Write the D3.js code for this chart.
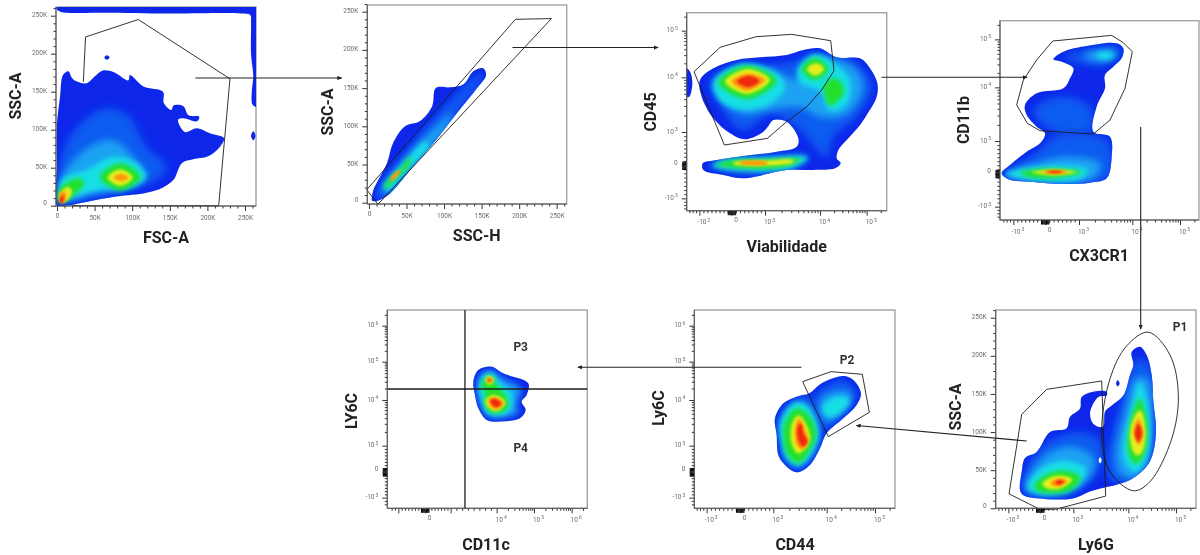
<!DOCTYPE html>
<html lang="en">
<head>
  <meta charset="UTF-8">
  <title>Flow cytometry gating strategy</title>
  <script src="https://d3js.org/d3.v7.min.js"></script>
  <style>
    html, body { margin: 0; background: #fff; }
    svg { display: block; filter: blur(0.35px); }
    text { font-family: Roboto, sans-serif; }
    .tick text { font-size: 6.5px; fill: #6d6d6d; }
    .tick text tspan { font-size: 5px; }
    .tick line { stroke: #333; }
    .title { font-size: 16px; font-weight: 700; fill: #222; text-anchor: middle; }
    .pop { font-size: 12px; font-weight: 700; fill: #333; text-anchor: middle; }
  </style>
</head>
<body>
<svg width="1200" height="555"></svg>
<script>
// density colours, low to high. index 1 is the flat blue of the outer contour
const densityColors = ["#ffffff", "#0a28ea", "#0f5cf0", "#1ca2f2", "#18dfe6", "#22e02a", "#e6ee1e", "#ff9a10", "#ee2a10"];
// blur per density level, the hot spots stay sharper
const levelBlur = [0, 0, 4.5, 3.8, 2.8, 2, 1.5, 1.2, 1];

const linTicks = [0, 50, 100, 150, 200, 250];
const linLabels = ["0", "50K", "100K", "150K", "200K", "250K"];

// Panel 1: FSC-A / SSC-A, values in K
const p1Outer = [
  [[0,0],[0,51],[0,108],[4,143],[8,172],[15,177],[20,168],[25,164],[39,161],[50,170],[61,178],[75,176],[95,165],[97,172],[115,157],[141,150],[142,135],[152,126],[155,132],[168,131],[175,119],[189,117],[186,111],[168,115],[161,113],[170,97],[186,102],[204,95],[222,89],[217,78],[201,65],[181,61],[166,56],[155,34],[141,24],[119,17],[79,12],[39,5],[12,0]],
  [[0,262],[130,262],[266,262],[266,130],[260,133],[259,150],[261,170],[258,200],[258,240],[257,251],[245,253],[150,253],[60,254],[5,255],[0,258]],
  [[261,98],[264,92],[261,86],[258,92]],
  [[63,195],[66,198],[70,195],[66,192]]
];
const p1Levels = [
  [2, [[4,12],[12,82],[57,126],[92,121],[119,78],[146,51],[132,34],[79,16],[26,8]]],
  [3, [[6,12],[12,47],[44,78],[75,86],[101,64],[115,38],[92,23],[48,16],[19,7]]],
  [4, [[4,7],[6,34],[39,47],[75,64],[106,56],[119,38],[101,25],[57,21],[21,12]]],
  [5, [[57,38],[84,56],[111,38],[84,20]]],
  [5, [[2,5],[5,24],[30,36],[36,30],[25,16],[10,5]]],
  [6, [[67,37],[84,48],[101,37],[84,26]]],
  [6, [[5,5],[4,16],[15,25],[20,18],[12,6]]],
  [7, [[75,37],[85,42],[95,37],[85,32]]],
  [7, [[3,6],[6,19],[12,17],[10,5]]],
  [8, [[4,5],[6,13],[9,11],[7,3]]]
];
const p1Gate = [[35,163],[38,222],[108,245],[230,167],[215,0],[20,0]];

// Panel 2: SSC-H / SSC-A, values in K
const p2Outer = [[[4,8],[6,17],[24,52],[32,78],[48,100],[68,107],[84,126],[89,150],[108,151],[126,155],[139,172],[152,176],[156,167],[144,150],[117,117],[86,78],[55,43],[28,12],[10,2],[4,3]]];
const p2Levels = [
  [2, [[8,6],[45,60],[100,125],[150,170],[152,165],[115,115],[55,45],[15,3]]],
  [3, [[17,17],[50,60],[95,105],[112,118],[104,98],[60,48],[22,12]]],
  [4, [[21,21],[50,55],[75,80],[80,75],[52,43],[25,15]]],
  [5, [[21,23],[40,42],[55,60],[54,50],[35,31],[23,19]]],
  [7, [[28,30],[38,42],[42,42],[32,29]]]
];
const p2Gate = [[-3,17],[195,240],[243,241],[12,-2]];

// Panel 3: Viabilidade / CD45, values in biex channels
const p3XTicks = [38, 135, 235, 400, 540];
const p3XLabels = ["-10^2", "0", "10^3", "10^4", "10^5"];
const p3YTicks = [37, 137, 236, 400, 540];
const p3YLabels = ["-10^3", "0", "10^3", "10^4", "10^5"];
const p3Outer = [
  [[40,392],[80,427],[150,452],[220,460],[300,467],[350,482],[400,487],[450,460],[520,457],[550,427],[572,382],[570,342],[540,287],[520,257],[480,212],[455,182],[450,157],[462,142],[445,127],[380,122],[300,122],[170,97],[110,107],[50,122],[48,142],[90,152],[170,164],[270,177],[330,192],[335,217],[300,267],[260,272],[245,254],[230,237],[175,214],[130,232],[80,277],[45,342]],
  [[-2,427],[10,417],[17,382],[8,342],[0,342]]
];
const p3Levels = [
  [2, [[70,392],[160,432],[300,442],[390,472],[510,442],[555,372],[510,282],[440,222],[420,160],[330,250],[250,290],[170,240],[110,300]]],
  [2, [[65,137],[170,107],[330,137],[360,167],[230,162],[110,152]]],
  [3, [[90,390],[170,425],[260,420],[330,395],[385,450],[430,455],[500,430],[530,370],[480,290],[400,280],[340,310],[240,300],[170,290],[110,330]]],
  [4, [[80,385],[160,440],[265,415],[295,370],[240,315],[150,305],[95,335]]],
  [4, [[330,420],[385,470],[445,440],[490,390],[480,320],[430,300],[400,360],[345,380]]],
  [4, [[75,135],[170,118],[320,128],[365,160],[230,160],[110,152]]],
  [5, [[95,385],[180,435],[270,390],[180,335]]],
  [5, [[345,425],[385,458],[425,425],[385,392]]],
  [5, [[412,375],[445,398],[473,360],[430,315]]],
  [5, [[90,138],[170,127],[300,133],[345,155],[250,153],[130,150]]],
  [6, [[115,388],[185,425],[250,392],[180,350]]],
  [6, [[360,425],[388,443],[412,425],[385,405]]],
  [6, [[140,140],[230,135],[320,145],[320,152],[230,150],[140,145]]],
  [7, [[135,388],[185,412],[235,392],[180,360]]],
  [7, [[160,141],[240,139],[240,146],[160,146]]],
  [8, [[150,388],[185,405],[218,390],[185,370]]]
];
const p3Gate = [[22,417],[100,490],[208,522],[315,529],[432,510],[442,420],[405,362],[360,312],[300,267],[242,217],[113,197]];

// Panel 4: CX3CR1 / CD11b, biex channels
const p4XTicks = [40, 135, 237, 397, 540];
const p4XLabels = ["-10^3", "0", "10^3", "10^4", "10^5"];
const p4YTicks = [40, 140, 237, 398, 542];
const p4YLabels = ["-10^3", "0", "10^3", "10^4", "10^5"];
const p4Outer = [[[160,482],[190,505],[260,522],[350,530],[370,515],[365,485],[340,460],[315,435],[315,395],[290,340],[280,265],[330,250],[335,190],[320,125],[270,112],[190,108],[90,115],[25,122],[5,140],[30,165],[80,205],[120,230],[135,260],[110,280],[80,315],[75,345],[110,380],[190,395],[210,425],[220,455],[185,475]]];
const p4Levels = [
  [2, [[190,490],[260,510],[350,520],[360,490],[300,465],[240,470]]],
  [2, [[100,330],[180,370],[270,340],[275,270],[150,270]]],
  [2, [[10,135],[120,210],[160,250],[320,240],[330,130],[190,112],[50,118]]],
  [3, [[250,495],[310,510],[350,505],[330,480],[280,478]]],
  [3, [[20,135],[110,170],[200,190],[300,170],[280,125],[120,118]]],
  [4, [[285,495],[315,505],[345,495],[315,482]]],
  [4, [[15,138],[100,158],[200,162],[265,150],[240,122],[110,118]]],
  [5, [[60,143],[160,154],[250,143],[160,126],[85,130]]],
  [6, [[95,144],[160,151],[230,144],[160,134]]],
  [7, [[125,144],[165,150],[205,144],[165,138]]],
  [8, [[138,144],[165,148],[192,144],[165,140]]]
];
const p4Gate = [[158,537],[335,554],[370,532],[397,505],[375,395],[330,300],[280,258],[120,268],[82,290],[50,345],[70,420],[110,480]];

// Panel 5: Ly6G (biex channels) / SSC-A (K)
const p5XTicks = [38, 133, 233, 398, 541];
const p5XLabels = ["-10^3", "0", "10^3", "10^4", "10^5"];
const p5Outer = [
  [[73,24],[78,48],[88,66],[123,74],[163,100],[213,105],[223,120],[253,131],[258,146],[293,153],[333,153],[333,148],[308,146],[283,125],[295,110],[322,107],[328,127],[348,135],[383,148],[403,175],[413,188],[408,205],[433,212],[453,201],[468,175],[473,140],[481,105],[473,74],[453,55],[403,37],[363,31],[333,28],[283,22],[233,13],[153,12],[83,17]],
  [[361,164],[366,168],[372,164],[366,160]]
];
const p5Holes = [[[309,63],[313,67],[318,63],[313,59]]];
const p5Levels = [
  [2, [[85,22],[90,50],[150,85],[250,100],[310,90],[310,50],[240,25],[150,15]]],
  [2, [[340,40],[350,100],[385,150],[420,195],[460,190],[478,120],[465,65],[440,45],[390,32]]],
  [3, [[90,25],[110,50],[170,75],[240,80],[295,65],[280,40],[220,20],[150,17]]],
  [3, [[360,70],[385,120],[420,170],[455,170],[470,115],[455,60],[415,40],[375,45]]],
  [4, [[95,27],[130,50],[200,62],[270,52],[250,32],[190,20],[130,19]]],
  [4, [[385,90],[410,135],[432,165],[462,120],[452,65],[420,48],[390,60]]],
  [5, [[115,30],[165,47],[225,48],[255,40],[225,24],[170,20],[130,22]]],
  [5, [[397,95],[415,130],[432,144],[455,110],[445,70],[420,58],[400,70]]],
  [6, [[140,33],[185,43],[230,38],[195,26],[155,26]]],
  [6, [[403,100],[422,125],[435,128],[450,100],[437,72],[420,70],[408,80]]],
  [7, [[165,34],[190,39],[215,36],[195,29],[170,30]]],
  [7, [[413,100],[428,118],[443,100],[430,83]]],
  [8, [[178,34],[192,37],[205,35],[192,31]]],
  [8, [[417,98],[428,111],[439,98],[428,87]]]
];
const p5GateA = [[153,156],[318,167],[330,16],[183,-1],[135,-2],[40,19],[78,123]];
const p5GateB = [[458,231],[523,201],[548,148],[528,91],[463,35],[413,23],[343,48],[318,96],[343,170],[393,213]];

// Panel 6: CD44 / Ly6C, biex channels
const p6XTicks = [37, 137, 237, 397, 542];
const p6XLabels = ["-10^3", "0", "10^3", "10^4", "10^5"];
const lyYTicks = [32, 110, 188, 325, 440, 548];
const lyYLabels = ["-10^3", "0", "10^3", "10^4", "10^5", "10^6"];
const p6Outer = [[[242,270],[267,315],[307,335],[345,345],[382,375],[447,397],[477,385],[500,345],[487,310],[447,270],[397,225],[377,180],[347,130],[307,108],[272,130],[252,160],[247,220]]];
const p6Levels = [
  [2, [[360,330],[400,370],[450,385],[485,345],[470,310],[420,260],[395,235]]],
  [2, [[250,265],[300,328],[345,335],[385,225],[350,140],[310,115],[270,140],[255,200]]],
  [3, [[375,320],[420,350],[470,345],[465,310],[420,270],[395,260]]],
  [4, [[385,305],[430,335],[465,325],[430,280],[400,275]]],
  [4, [[257,260],[300,318],[340,310],[375,225],[345,150],[310,125],[275,150],[260,200]]],
  [5, [[270,250],[305,300],[338,285],[365,225],[338,160],[310,135],[278,165],[268,210]]],
  [6, [[292,250],[312,280],[332,258],[348,210],[332,178],[310,165],[292,195]]],
  [7, [[303,248],[315,270],[330,242],[342,205],[326,176],[308,188]]],
  [8, [[310,245],[320,255],[328,225],[340,200],[325,185],[312,205]]]
];
const p6Gate = [[325,380],[410,410],[504,402],[525,288],[402,215]];

// Panel 7: CD11c / LY6C, biex channels
const p7XTicks = [33, 113, 190, 328, 440, 553];
const p7XLabels = ["", "0", "", "10^4", "10^5", "10^6"];
const p7Outer = [[[258,380],[273,415],[313,425],[348,405],[423,375],[418,340],[403,320],[415,295],[398,270],[328,260],[298,265],[273,300],[263,340]]];
const p7Levels = [
  [3, [[270,370],[285,405],[315,412],[345,390],[400,360],[395,330],[385,310],[395,290],[375,278],[330,272],[300,278],[280,310]]],
  [4, [[275,365],[290,400],[315,405],[335,380],[370,350],[375,310],[365,290],[330,278],[300,285],[285,320]]],
  [5, [[282,365],[295,392],[315,395],[325,375],[360,330],[360,300],[330,285],[305,292],[290,320],[295,345]]],
  [6, [[295,385],[306,398],[320,385],[306,370]]],
  [6, [[295,325],[320,340],[355,318],[330,292],[305,300]]],
  [7, [[298,385],[306,393],[315,385],[306,375]]],
  [7, [[303,325],[325,332],[350,315],[330,298],[310,305]]],
  [8, [[302,385],[306,389],[311,385],[306,380]]],
  [8, [[310,325],[325,328],[342,315],[328,303],[315,310]]]
];
const p7GateV = [[233,0],[233,595]];
const p7GateH = [[0,358],[600,358]];

const svg = d3.select("svg");

const defs = svg.append("defs");
levelBlur.forEach((s, i) => {
  if (!s) return;
  defs.append("filter").attr("id", `soft${i}`)
    .attr("x", "-50%").attr("y", "-50%").attr("width", "200%").attr("height", "200%")
    .append("feGaussianBlur").attr("stdDeviation", s);
});
defs.append("filter").attr("id", "edge")
  .attr("x", "-5%").attr("y", "-5%").attr("width", "110%").attr("height", "110%")
  .append("feGaussianBlur").attr("stdDeviation", 0.6);
defs.append("marker").attr("id", "head")
  .attr("viewBox", "0 0 6 6").attr("refX", 5).attr("refY", 3)
  .attr("markerWidth", 5).attr("markerHeight", 5).attr("markerUnits", "userSpaceOnUse")
  .attr("orient", "auto")
  .append("path").attr("d", "M0,0.5L6,3L0,5.5Z").attr("fill", "#222");

const linear = (d, r) => d3.scaleLinear().domain(d).range(r);

// frame = [left, top, right, bottom] in page pixels
const panels = [
  { frame: [56, 7, 256, 206], x: linear([0, 250], [57, 245]), y: linear([0, 250], [205.7, 15.7]),
    xT: linTicks, xL: linLabels, yT: linTicks, yL: linLabels, outer: p1Outer, levels: p1Levels,
    gates: [{ pts: p1Gate, closed: false }],
    xTitle: ["FSC-A", 166, 243], yTitle: ["SSC-A", 16, 96] },
  { frame: [367.3, 5, 566.7, 204], x: linear([0, 250], [369, 556.7]), y: linear([0, 250], [202.7, 11.7]),
    xT: linTicks, xL: linLabels, yT: linTicks, yL: linLabels, outer: p2Outer, levels: p2Levels,
    gates: [{ pts: p2Gate, closed: true }],
    xTitle: ["SSC-H", 476.7, 241], yTitle: ["SSC-A", 328, 112] },
  { frame: [686.7, 12.7, 886.7, 210.7], x: linear([0, 600], [686.7, 886.7]), y: linear([0, 594], [210.7, 12.7]),
    xT: p3XTicks, xL: p3XLabels, yT: p3YTicks, yL: p3YLabels, outer: p3Outer, levels: p3Levels,
    gates: [{ pts: p3Gate, closed: true }],
    xTitle: ["Viabilidade", 786.7, 252], yTitle: ["CD45", 651, 112] },
  { frame: [1000, 20.7, 1199, 220], x: linear([0, 597], [1000, 1199]), y: linear([0, 598], [220, 20.7]),
    xT: p4XTicks, xL: p4XLabels, yT: p4YTicks, yL: p4YLabels, outer: p4Outer, levels: p4Levels,
    gates: [{ pts: p4Gate, closed: true }],
    xTitle: ["CX3CR1", 1099, 261], yTitle: ["CD11b", 964, 120] },
  { frame: [995.7, 310, 1196, 508.3], x: linear([0, 601], [995.7, 1196]), y: linear([0, 250], [508.3, 317.7]),
    xT: p5XTicks, xL: p5XLabels, yT: linTicks, yL: linLabels, outer: p5Outer, levels: p5Levels, holes: p5Holes,
    gates: [{ pts: p5GateA, closed: true }, { pts: p5GateB, closed: true, smooth: true }],
    xTitle: ["Ly6G", 1096, 550], yTitle: ["SSC-A", 956, 407] },
  { frame: [694.3, 310, 895, 508.3], x: linear([0, 602], [694.3, 895]), y: linear([0, 595], [508.3, 310]),
    xT: p6XTicks, xL: p6XLabels, yT: lyYTicks, yL: lyYLabels, outer: p6Outer, levels: p6Levels,
    gates: [{ pts: p6Gate, closed: true }],
    xTitle: ["CD44", 795, 550], yTitle: ["Ly6C", 659, 408] },
  { frame: [387.3, 310, 587.3, 508.3], x: linear([0, 600], [387.3, 587.3]), y: linear([0, 595], [508.3, 310]),
    xT: p7XTicks, xL: p7XLabels, yT: lyYTicks, yL: lyYLabels, outer: p7Outer, levels: p7Levels,
    gates: [{ pts: p7GateV, closed: false, thick: true }, { pts: p7GateH, closed: false, thick: true }],
    xTitle: ["CD11c", 486, 550], yTitle: ["LY6C", 352, 411] }
];

// population names and the arrows between plots, in page pixels
const popLabels = [["P1", 1180, 331], ["P2", 847, 364], ["P3", 520.7, 351], ["P4", 520.7, 452]];
const arrows = [
  [195.5, 78, 341.5, 78],
  [512.5, 47.5, 658, 47.5],
  [881.5, 77.3, 1027, 77.3],
  [1140.7, 127, 1140.7, 329],
  [1026.7, 441, 856.5, 425.5],
  [801.5, 367.3, 578, 367.3]
];

function minorTicks(majors, labels, max) {
  const out = [];
  const isDecade = l => l.startsWith("10^");
  for (let i = 0; i < majors.length - 1; i++) {
    const a = majors[i], b = majors[i + 1];
    if (isDecade(labels[i]) && isDecade(labels[i + 1])) {
      for (let k = 2; k < 10; k++) out.push(a + (b - a) * Math.log10(k));
    } else {
      for (let k = 1; k < 8; k++) out.push(a + (b - a) * k / 8);
    }
  }
  const last = majors[majors.length - 1], span = last - majors[majors.length - 2];
  for (let k = 2; k < 10; k++) {
    const v = last + span * Math.log10(k);
    if (v < max) out.push(v);
  }
  for (let v = majors[0] - 10; v > 4; v -= 10) out.push(v);
  return out;
}

// "10^3" in a tick label becomes 10 with a raised 3
function labelTicks(sel, dx, dy) {
  sel.selectAll(".tick text").each(function () {
    const t = d3.select(this), parts = t.text().split("^");
    t.text(parts[0]).attr("transform", `translate(${dx},${parts[0] === "0" ? dy - 2 : dy})`);
    if (parts[1]) t.append("tspan").attr("dy", -2.5).attr("dx", 1).text(parts[1]);
  });
}

panels.forEach((p, n) => {
  const [l, t, r, b] = p.frame;
  const g = svg.append("g");
  const blob = d3.line().x(d => p.x(d[0])).y(d => p.y(d[1])).curve(d3.curveCatmullRomClosed.alpha(0.5));
  const blobD = p.outer.map(blob).join("");

  g.append("rect").attr("x", l).attr("y", t).attr("width", r - l).attr("height", b - t)
    .attr("fill", "#fff").attr("stroke", "#a3a3a3").attr("stroke-width", 1.4);

  defs.append("clipPath").attr("id", `frame${n}`)
    .append("rect").attr("x", l).attr("y", t).attr("width", r - l).attr("height", b - t);
  defs.append("clipPath").attr("id", `blob${n}`).append("path").attr("d", blobD);

  const dens = g.append("g").attr("clip-path", `url(#frame${n})`);
  dens.append("path").attr("d", blobD).attr("fill", densityColors[1]).attr("filter", "url(#edge)");
  dens.append("g").attr("clip-path", `url(#blob${n})`)
    .selectAll("path").data(p.levels).join("path")
    .attr("d", d => blob(d[1]))
    .attr("fill", d => densityColors[d[0]])
    .attr("filter", d => `url(#soft${d[0]})`);
  if (p.holes) {
    dens.selectAll(".hole").data(p.holes).join("path").attr("class", "hole")
      .attr("d", blob).attr("fill", densityColors[0]);
  }

  // gates
  p.gates.forEach(gate => {
    const path = d3.line().x(d => p.x(d[0])).y(d => p.y(d[1]))
      .curve(gate.smooth ? d3.curveCatmullRomClosed.alpha(0.5) : gate.closed ? d3.curveLinearClosed : d3.curveLinear);
    g.append("path").attr("d", path(gate.pts))
      .attr("fill", "none").attr("stroke", "#1c1c1c").attr("stroke-width", gate.thick ? 1.3 : 0.9);
  });

  // axes: long ticks with labels, short ticks, a dense bunch of marks at zero
  const isLin = p.xT === linTicks;
  const xMinor = isLin ? d3.range(0, 261, 10).filter(v => v % 50) : minorTicks(p.xT, p.xL, 596);
  const yIsLin = p.yT === linTicks;
  const yMinor = yIsLin ? d3.range(0, 261, 10).filter(v => v % 50) : minorTicks(p.yT, p.yL, 590);
  const bunch = (ticks, labels) => {
    const z = ticks[labels.indexOf("0")];
    return d3.range(z - 12, z + 13, 2.5);
  };

  const xAxis = g.append("g").attr("transform", `translate(0,${b})`);
  xAxis.append("g").call(d3.axisBottom(p.x).tickValues(xMinor).tickSize(2.5).tickFormat(""));
  if (!isLin) xAxis.append("g").attr("class", "bunch").call(d3.axisBottom(p.x).tickValues(bunch(p.xT, p.xL)).tickSize(4.5).tickFormat(""));
  const xMajor = xAxis.append("g").call(d3.axisBottom(p.x).tickValues(p.xT).tickSize(5).tickPadding(4)
    .tickFormat((d, i) => p.xL[i]));
  labelTicks(xMajor, isLin ? 0 : 4, 0);

  const yAxis = g.append("g").attr("transform", `translate(${l},0)`);
  yAxis.append("g").call(d3.axisLeft(p.y).tickValues(yMinor).tickSize(2.5).tickFormat(""));
  if (!yIsLin) yAxis.append("g").attr("class", "bunch").call(d3.axisLeft(p.y).tickValues(bunch(p.yT, p.yL)).tickSize(4.5).tickFormat(""));
  const yMajor = yAxis.append("g").call(d3.axisLeft(p.y).tickValues(p.yT).tickSize(5).tickPadding(4)
    .tickFormat((d, i) => p.yL[i]));
  labelTicks(yMajor, 0, -1);

  g.selectAll(".bunch .tick line").style("stroke", "#000");
  g.selectAll(".domain").remove();
  g.append("path").attr("d", `M${l},${t}V${b}H${r}`).attr("fill", "none").attr("stroke", "#555").attr("stroke-width", 1);

  g.append("text").attr("class", "title").attr("x", p.xTitle[1]).attr("y", p.xTitle[2]).text(p.xTitle[0]);
  g.append("text").attr("class", "title")
    .attr("transform", `translate(${p.yTitle[1] + 5},${p.yTitle[2]}) rotate(-90)`).text(p.yTitle[0]);
});

svg.selectAll(".pop").data(popLabels).join("text").attr("class", "pop")
  .attr("x", d => d[1]).attr("y", d => d[2]).text(d => d[0]);

svg.selectAll(".arrow").data(arrows).join("line").attr("class", "arrow")
  .attr("x1", d => d[0]).attr("y1", d => d[1]).attr("x2", d => d[2]).attr("y2", d => d[3])
  .attr("stroke", "#222").attr("stroke-width", 1.1).attr("marker-end", "url(#head)");
</script>
</body>
</html>
